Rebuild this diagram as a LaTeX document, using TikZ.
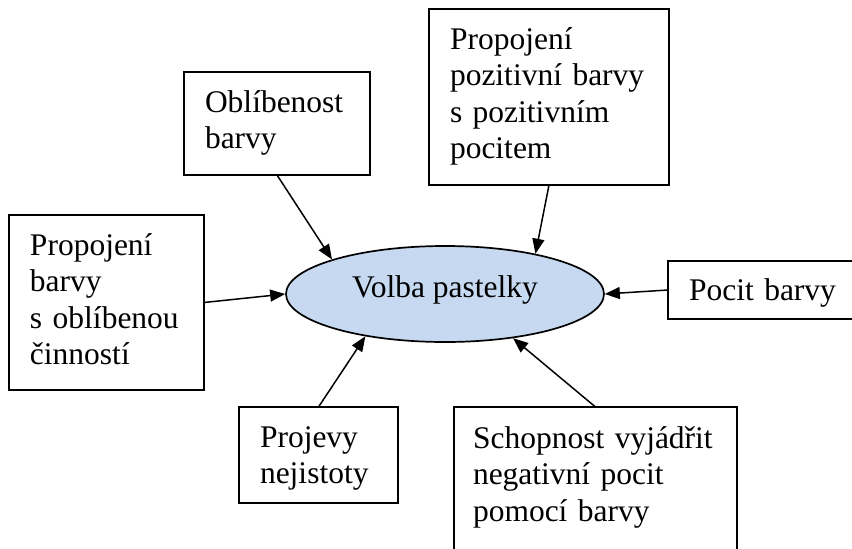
\documentclass[tikz,border=0pt]{standalone}
\usepackage{fontspec}
\setmainfont{Liberation Serif}
\usetikzlibrary{arrows.meta,shapes.geometric}
\definecolor{crayonblue}{RGB}{198,217,240}
\newcommand\boxfont{\fontsize{31.5}{36.5}\selectfont}
\begin{document}
\begin{tikzpicture}[x=1pt,y=-1pt,
  box/.style={draw=black, line width=1.7pt, rectangle, inner sep=0pt, outer sep=0pt, anchor=north west},
  boxtext/.style={inner sep=0pt, outer sep=0pt, anchor=base west, align=left, text width=300pt, font=\boxfont},
  conn/.style={line width=1.5pt, -{Triangle[length=15pt,width=12pt]}}]
\useasboundingbox (0,0) rectangle (852,549);
\clip (0,0) rectangle (852,549);
\fill[white] (0,0) rectangle (852,549);

% central ellipse
\node[ellipse, draw=black, line width=1.7pt, fill=crayonblue, minimum width=318pt, minimum height=96pt, inner sep=0pt] (volba) at (445,294) {};
\node[inner sep=0pt, anchor=base, font=\boxfont] (volbatext) at (445,297) {Volba pastelky};

% surrounding boxes
\node[box, minimum width=186pt, minimum height=103pt] (b1) at (184,72) {};
\node[boxtext] (t1) at ([shift={(21pt,-40pt)}]b1.north west) {Oblíbenost\\barvy};

\node[box, minimum width=240pt, minimum height=176pt] (b2) at (429,9) {};
\node[boxtext] (t2) at ([shift={(21pt,-40pt)}]b2.north west) {Propojení\\pozitivní barvy\\s pozitivním\\pocitem};

\node[box, minimum width=195pt, minimum height=175pt] (b3) at (9,215) {};
\node[boxtext] (t3) at ([shift={(21pt,-40pt)}]b3.north west) {Propojení\\barvy\\s oblíbenou\\činností};

\node[box, minimum width=210pt, minimum height=58pt] (b4) at (668,261) {};
\node[boxtext] (t4) at ([shift={(21pt,-39pt)}]b4.north west) {Pocit barvy};

\node[box, minimum width=159pt, minimum height=96pt] (b5) at (239,407) {};
\node[boxtext] (t5) at ([shift={(21pt,-40pt)}]b5.north west) {Projevy\\nejistoty};

\node[box, minimum width=283pt, minimum height=170pt] (b6) at (454,407) {};
\node[boxtext] (t6) at ([shift={(19pt,-41pt)}]b6.north west) {Schopnost vyjádřit\\negativní pocit\\pomocí barvy};

% connectors into the ellipse
\draw[conn] (b1.south) -- (volba.163);
\draw[conn] (b2.south) -- (volba.24);
\draw[conn] (b3.east) -- (volba.west);
\draw[conn] (b4.west) -- (volba.east);
\draw[conn] (b5.north) -- (volba.208);
\draw[conn] (b6.north) -- (volba.327);
\end{tikzpicture}
\end{document}
